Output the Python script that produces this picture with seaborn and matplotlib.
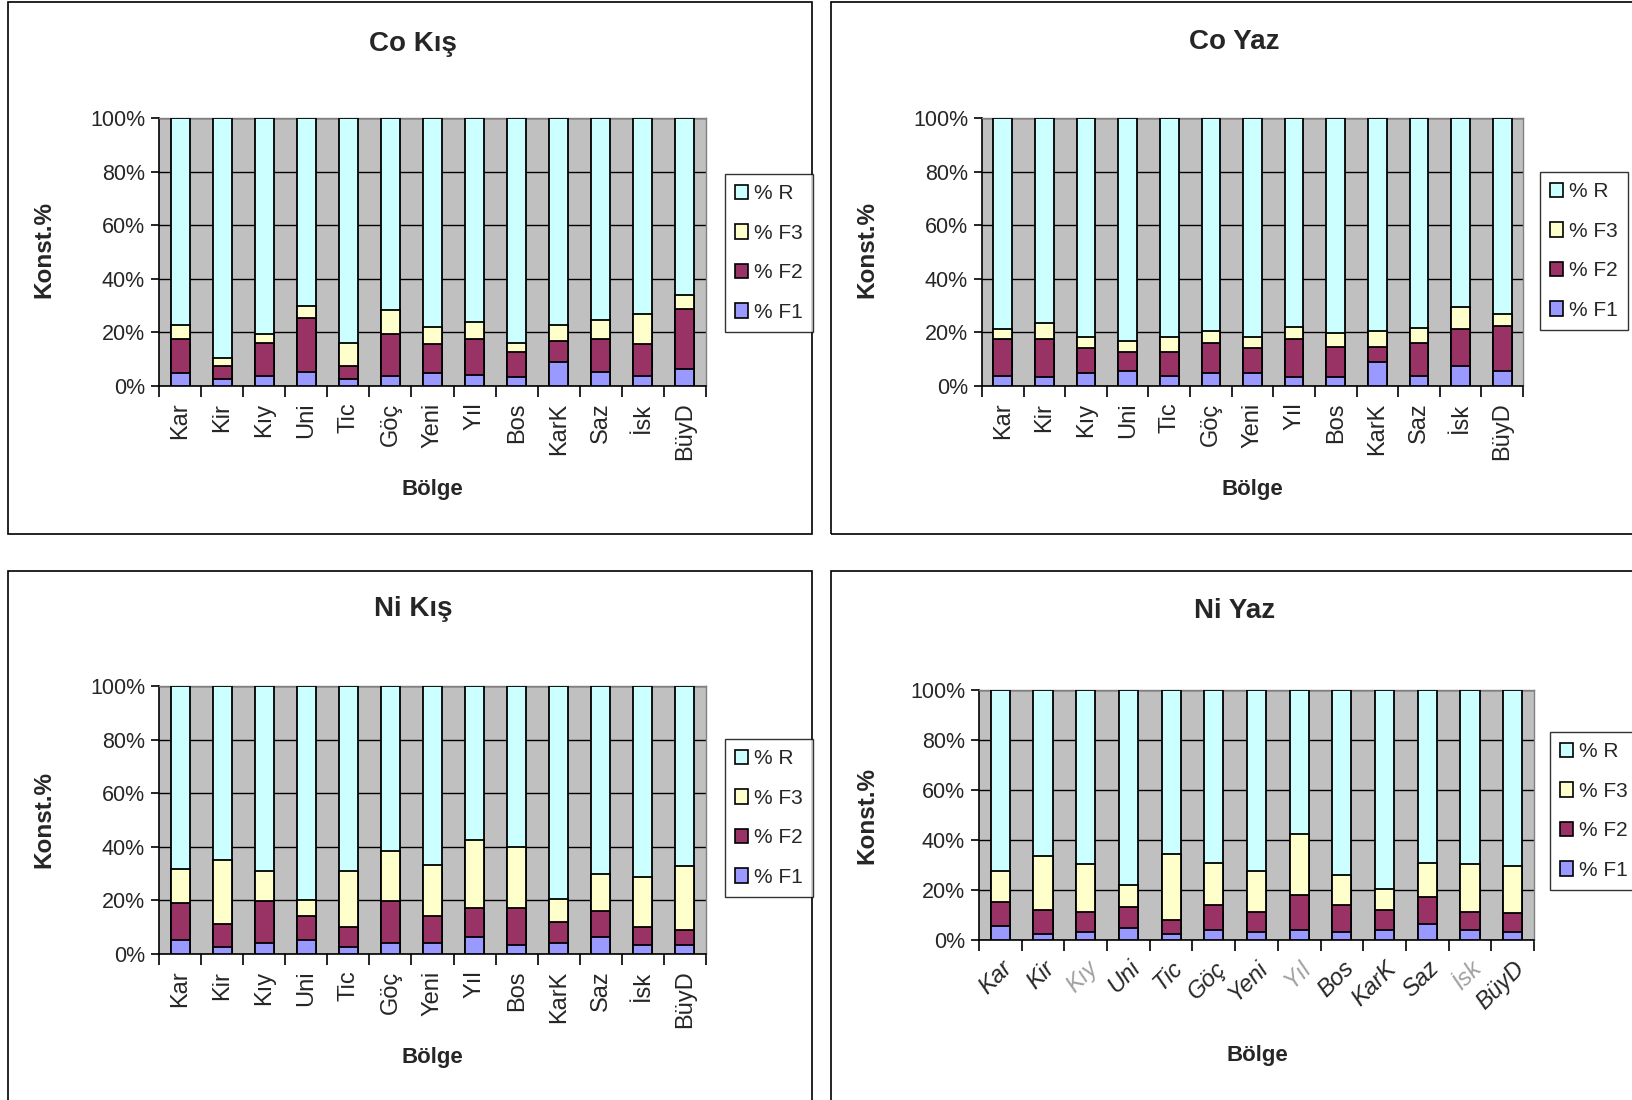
import matplotlib
matplotlib.use("Agg")
import matplotlib.pyplot as plt
from matplotlib.patches import Patch, Rectangle
import numpy as np
import seaborn as sns

# Regions (Bölge)
regions = ["Kar", "Kir", "Kıy", "Uni", "Tic", "Göç", "Yeni", "Yıl", "Bos", "KarK", "Saz", "İsk", "BüyD"]

# Fraction shares (%) per region; the residual % R is the remainder to 100
co_kis_f1 = [4.9, 2.6, 3.9, 5.3, 2.6, 3.9, 4.9, 4.0, 3.2, 9.0, 5.3, 3.9, 6.2]
co_kis_f2 = [12.6, 4.9, 12.2, 20.0, 5.0, 15.6, 10.6, 13.5, 9.4, 7.9, 12.2, 11.6, 22.7]
co_kis_f3 = [5.1, 2.9, 3.4, 4.5, 8.5, 8.9, 6.4, 6.3, 3.5, 5.7, 7.1, 11.3, 5.0]

co_yaz_f1 = [3.9, 3.2, 4.7, 5.5, 3.9, 4.7, 4.7, 3.2, 3.2, 9.1, 3.9, 7.6, 5.5]
co_yaz_f2 = [13.6, 14.3, 9.4, 7.1, 8.7, 11.3, 9.4, 14.3, 11.5, 5.3, 12.1, 13.5, 17.0]
co_yaz_f3 = [3.6, 5.9, 4.1, 4.3, 5.6, 4.4, 4.1, 4.4, 5.0, 6.0, 5.8, 8.5, 4.4]

ni_kis_f1 = [5.2, 2.7, 4.0, 5.2, 2.7, 4.0, 4.0, 6.2, 3.2, 4.0, 6.2, 3.2, 3.2]
ni_kis_f2 = [13.8, 8.4, 15.6, 8.8, 7.2, 15.6, 10.0, 10.8, 13.8, 7.8, 10.0, 6.7, 5.8]
ni_kis_f3 = [12.7, 24.1, 11.4, 6.0, 21.1, 18.7, 19.3, 25.4, 23.1, 8.6, 13.5, 19.0, 24.0]

ni_yaz_f1 = [5.6, 2.3, 3.2, 5.0, 2.3, 3.9, 3.2, 3.9, 3.2, 3.9, 6.6, 3.9, 3.2]
ni_yaz_f2 = [9.8, 9.9, 8.2, 8.3, 5.6, 10.0, 8.2, 14.2, 10.7, 8.3, 10.7, 7.5, 7.5]
ni_yaz_f3 = [12.3, 21.4, 18.9, 8.8, 26.5, 17.0, 16.3, 24.3, 12.3, 8.1, 13.6, 18.9, 18.9]

series_labels = ["% R", "% F3", "% F2", "% F1"]
series_colors = ["#CCFFFF", "#FFFFCC", "#993366", "#9999FF"]

W, H = 1633, 1100
fig = plt.figure(figsize=(W / 100, H / 100), dpi=100)
sns.set_style("white")
plt.rcParams["font.family"] = ["Liberation Sans", "DejaVu Sans"]
NARROW = ["Liberation Sans Narrow", "Liberation Sans", "DejaVu Sans"]


def fx(px):
    return px / W


def fy(py):
    return 1 - py / H


def draw_panel(rect, f1, f2, f3, slanted=False, faded=()):
    ax = fig.add_axes(rect)
    f1 = np.asarray(f1)
    f2 = np.asarray(f2)
    f3 = np.asarray(f3)
    layers = [
        (np.full(len(regions), 100.0), series_colors[0]),
        (f1 + f2 + f3, series_colors[1]),
        (f1 + f2, series_colors[2]),
        (f1, series_colors[3]),
    ]
    for vals, col in layers:
        sns.barplot(x=regions, y=vals, order=regions, color=col, saturation=1,
                    width=0.45, edgecolor="black", linewidth=1.3,
                    errorbar=None, ax=ax, zorder=3)
    ax.set_facecolor("#C0C0C0")
    ax.set_xlim(-0.5, len(regions) - 0.5)
    ax.set_ylim(0, 100)
    ax.set_xlabel("")
    ax.set_ylabel("")
    ax.set_yticks(np.arange(0, 101, 20))
    ax.set_yticklabels([f"{v}%" for v in range(0, 101, 20)], family=NARROW, fontsize=15.5)
    ax.yaxis.grid(True, color="black", linewidth=1.0, zorder=0)
    ax.set_axisbelow(True)
    for s in ("top", "right"):
        ax.spines[s].set_color("#808080")
        ax.spines[s].set_linewidth(1.0)
    for s in ("left", "bottom"):
        ax.spines[s].set_color("black")
        ax.spines[s].set_linewidth(1.2)
    ax.tick_params(axis="y", direction="out", length=6, width=1.2, color="black", pad=4, left=True)
    ax.set_xticks(np.arange(-0.5, len(regions), 1.0), minor=True)
    ax.tick_params(axis="x", which="minor", direction="out", length=8, width=1.2, color="black", bottom=True)
    ax.tick_params(axis="x", which="major", length=0, pad=12)
    if slanted:
        ax.set_xticklabels(regions, rotation=45, ha="right", rotation_mode="anchor",
                           family=NARROW, style="italic", fontsize=17)
        for lbl in ax.get_xticklabels():
            if lbl.get_text() in faded:
                lbl.set_color("#A0A0A0")
    else:
        ax.set_xticklabels(regions, rotation=90, ha="center", va="top", fontsize=17)
    return ax


def panel_text(title, tx, ty, bx, by, kx, ky):
    fig.text(fx(tx), fy(ty), title, ha="center", va="center", fontsize=20,
             fontweight="bold", family=NARROW)
    fig.text(fx(bx), fy(by), "Bölge", ha="center", va="center", fontsize=16,
             fontweight="bold", family=NARROW)
    fig.text(fx(kx), fy(ky), "Konst.%", ha="center", va="center", fontsize=17.5,
             fontweight="bold", rotation=90)


def panel_legend(lx, ly):
    handles = [Patch(facecolor=c, edgecolor="black", linewidth=1.2) for c in series_colors]
    leg = fig.legend(handles, series_labels, loc="upper left",
                     bbox_to_anchor=(fx(lx), fy(ly)), frameon=True, fancybox=False,
                     edgecolor="black", fontsize=15, handlelength=0.6,
                     handleheight=0.7, handletextpad=0.3, labelspacing=0.98,
                     borderpad=0.5, borderaxespad=0)
    leg.get_frame().set_linewidth(1.0)
    for t in leg.get_texts():
        t.set_family(NARROW)


def box(x0, y0, x1, y1):
    fig.patches.append(Rectangle((fx(x0), fy(y1)), fx(x1 - x0), (y1 - y0) / H,
                                 transform=fig.transFigure, fill=False,
                                 edgecolor="black", linewidth=1.2))


# Panel frames
box(8, 2, 812, 534)
box(831, 2, 1640, 534)
box(8, 571, 812, 1110)
box(831, 571, 1640, 1110)

# Co Kış
draw_panel([fx(159), fy(386), fx(706 - 159), (386 - 118) / H], co_kis_f1, co_kis_f2, co_kis_f3)
panel_text("Co Kış", 413, 44, 432, 489, 44, 250)
panel_legend(725, 174)

# Co Yaz
draw_panel([fx(982), fy(386), fx(1523 - 982), (386 - 118) / H], co_yaz_f1, co_yaz_f2, co_yaz_f3)
panel_text("Co Yaz", 1234, 42, 1252, 489, 867, 250)
panel_legend(1540, 172)

# Ni Kış
draw_panel([fx(159), fy(954), fx(706 - 159), (954 - 686) / H], ni_kis_f1, ni_kis_f2, ni_kis_f3)
panel_text("Ni Kış", 413, 609, 432, 1058, 44, 819)
panel_legend(725, 739)

# Ni Yaz
draw_panel([fx(979), fy(940), fx(1534 - 979), (940 - 690) / H], ni_yaz_f1, ni_yaz_f2, ni_yaz_f3,
           slanted=True, faded=("Kıy", "Yıl", "İsk"))
panel_text("Ni Yaz", 1235, 611, 1257, 1055, 867, 816)
panel_legend(1550, 732)

fig.savefig("out.png", dpi=100, facecolor="white")
